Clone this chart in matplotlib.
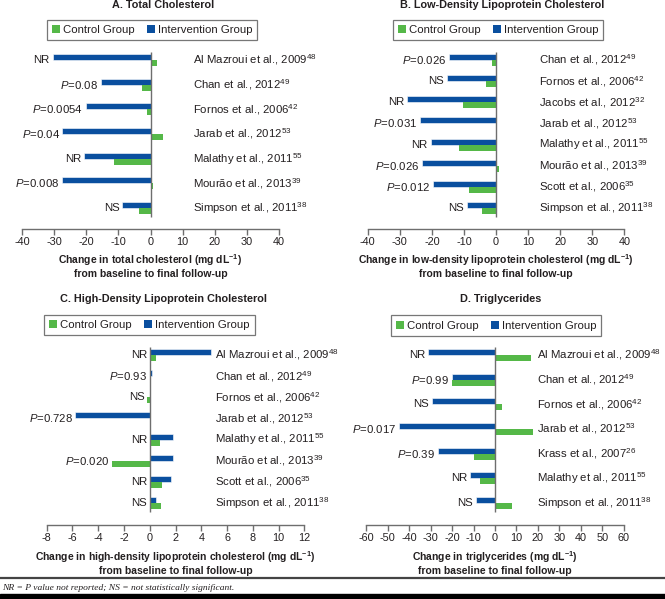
import matplotlib
matplotlib.use("Agg")
import matplotlib.pyplot as plt
from matplotlib.patches import Patch, Rectangle
from matplotlib.lines import Line2D

plt.rcParams['font.family'] = ['Liberation Sans', 'DejaVu Sans']
plt.rcParams['mathtext.fontset'] = 'custom'
plt.rcParams['mathtext.rm'] = 'Liberation Sans'
plt.rcParams['mathtext.it'] = 'Liberation Sans:italic'
plt.rcParams['mathtext.bf'] = 'Liberation Sans:bold'

BLUE = '#0A4F9F'
GREEN = '#55B848'
TXT = '#231F20'
GRAY = '#6E6E6E'

# ---------------- data ----------------
A_studies = ["Al Mazroui et al., 2009", "Chan et al., 2012", "Fornos et al., 2006", "Jarab et al., 2012",
             "Malathy et al., 2011", "Mourão et al., 2013", "Simpson et al., 2011"]
A_refs = ["48", "49", "42", "53", "55", "39", "38"]
A_int = [-30.5, -15.4, -20.1, -27.4, -20.7, -27.4, -8.8]
A_ctrl = [2.1, -2.7, -1.2, 3.9, -11.4, 0.7, -3.6]
A_p = ["NR", "P=0.08", "P=0.0054", "P=0.04", "NR", "P=0.008", "NS"]

B_studies = ["Chan et al., 2012", "Fornos et al., 2006", "Jacobs et al., 2012", "Jarab et al., 2012",
             "Malathy et al., 2011", "Mourão et al., 2013", "Scott et al., 2006", "Simpson et al., 2011"]
B_refs = ["49", "42", "32", "53", "55", "39", "35", "38"]
B_int = [-14.5, -15.3, -27.7, -23.6, -20.4, -23.0, -19.6, -9.0]
B_ctrl = [-1.2, -3.0, -10.4, 0.0, -11.4, 0.8, -8.4, -4.3]
B_p = ["P=0.026", "NS", "NR", "P=0.031", "NR", "P=0.026", "P=0.012", "NS"]

C_studies = ["Al Mazroui et al., 2009", "Chan et al., 2012", "Fornos et al., 2006", "Jarab et al., 2012",
             "Malathy et al., 2011", "Mourão et al., 2013", "Scott et al., 2006", "Simpson et al., 2011"]
C_refs = ["48", "49", "42", "53", "55", "39", "35", "38"]
C_int = [4.76, 0.21, 0.0, -5.77, 1.81, 1.81, 1.66, 0.47]
C_ctrl = [0.52, 0.13, -0.18, 0.0, 0.83, -2.9, 0.98, 0.88]
C_p = ["NR", "P=0.93", "NS", "P=0.728", "NR", "P=0.020", "NR", "NS"]

D_studies = ["Al Mazroui et al., 2009", "Chan et al., 2012", "Fornos et al., 2006", "Jarab et al., 2012",
             "Krass et al., 2007", "Malathy et al., 2011", "Simpson et al., 2011"]
D_refs = ["48", "49", "42", "53", "26", "55", "38"]
D_int = [-31.2, -20.1, -29.4, -44.9, -26.7, -11.5, -8.9]
D_ctrl = [16.6, -20.1, 3.3, 17.9, -10.0, -7.2, 8.1]
D_p = ["NR", "P=0.99", "NS", "P=0.017", "P=0.39", "NR", "NS"]

A_ticks = list(range(-40, 41, 10))
B_ticks = list(range(-40, 41, 10))
C_ticks = list(range(-8, 13, 2))
D_ticks = list(range(-60, 61, 10))

W, H = 665, 599
fig = plt.figure(figsize=(W / 100, H / 100), dpi=100)


def fx(px):
    return px / W


def fy(py):
    return 1 - py / H


def fmt_p(s):
    if s.startswith("P="):
        return "$P$=" + s[2:]
    return s


def panel(title, xlabel, studies, refs, ints, ctrls, pvals, ticks,
          x0, x1, row0, spacing, spine_y, title_x, title_y, legend_box, label_frac):
    n = len(studies)
    top = row0 - 10
    ax = fig.add_axes([fx(x0), fy(spine_y), fx(x1 - x0), (spine_y - top) / H])
    ax.set_xlim(ticks[0], ticks[-1])
    ylo = -10 / spacing
    yhi = (spine_y - row0) / spacing
    ax.set_ylim(yhi, ylo)
    h = 6 / spacing
    ys = list(range(n))
    ax.barh([y - h / 2 for y in ys], ints, height=h, color=BLUE, edgecolor='white', linewidth=0.4, zorder=2)
    ax.barh([y + h / 2 for y in ys], ctrls, height=h, color=GREEN, edgecolor='none', zorder=2)
    ax.vlines(0, -8 / spacing, n - 1 + 9 / spacing, color=GRAY, lw=1.0, zorder=3)
    for sp in ['top', 'left', 'right']:
        ax.spines[sp].set_visible(False)
    ax.spines['bottom'].set_color(GRAY)
    ax.spines['bottom'].set_linewidth(1.0)
    ax.set_yticks([])
    ax.set_xticks(ticks)
    ax.set_xticklabels([str(t) for t in ticks])
    ax.tick_params(axis='x', direction='out', length=4, width=1.0, color=GRAY,
                   labelsize=7.8, labelcolor=TXT, pad=2)
    ax.set_xlabel(xlabel, fontsize=7.5, fontweight='bold', color=TXT, labelpad=4, linespacing=1.15)
    ax.patch.set_alpha(0)
    for y, s, r, iv, cv, p in zip(ys, studies, refs, ints, ctrls, pvals):
        ax.text(label_frac, y, s + "$^{" + r + "}$", transform=ax.get_yaxis_transform(),
                ha='left', va='center', fontsize=8.2, color=TXT)
        xm = min(iv, cv, 0)
        ax.annotate(fmt_p(p), xy=(xm, y), xytext=(-2, 0), textcoords='offset points',
                    ha='right', va='center', fontsize=8.2, color=TXT)
    fig.text(fx(title_x), fy(title_y), title, ha='center', va='center',
             fontsize=7.8, fontweight='bold', color=TXT)
    lx0, ly0, lx1, ly1 = legend_box
    handles = [Patch(facecolor=GREEN, edgecolor='none', label='Control Group'),
               Patch(facecolor=BLUE, edgecolor='none', label='Intervention Group')]
    leg = fig.legend(handles=handles, loc='center', ncol=2,
                     bbox_to_anchor=(fx((lx0 + lx1) / 2), fy((ly0 + ly1) / 2)),
                     frameon=True, fancybox=False, fontsize=8.2, handlelength=0.7, handleheight=0.7,
                     handletextpad=0.25, columnspacing=1.1, borderpad=0.45, borderaxespad=0)
    leg.get_frame().set_edgecolor('#555555')
    leg.get_frame().set_linewidth(0.9)
    for t in leg.get_texts():
        t.set_color(TXT)
    return ax


panel("A. Total Cholesterol",
      "Change in total cholesterol (mg dL$^{\\mathbf{-1}}$)\nfrom baseline to final follow-up",
      A_studies, A_refs, A_int, A_ctrl, A_p, A_ticks,
      22, 279, 60, 24.67, 228.5, 163, 5.5, (50, 21, 254, 39), 0.665)
panel("B. Low-Density Lipoprotein Cholesterol",
      "Change in low-density lipoprotein cholesterol (mg dL$^{\\mathbf{-1}}$)\nfrom baseline to final follow-up",
      B_studies, B_refs, B_int, B_ctrl, B_p, B_ticks,
      367.7, 624.3, 60, 21.14, 228.5, 502, 5.5, (395, 21, 601, 39), 0.666)
panel("C. High-Density Lipoprotein Cholesterol",
      "Change in high-density lipoprotein cholesterol (mg dL$^{\\mathbf{-1}}$)\nfrom baseline to final follow-up",
      C_studies, C_refs, C_int, C_ctrl, C_p, C_ticks,
      46.7, 304.3, 355, 21.14, 525, 163, 299, (48, 317, 251, 333), 0.653)
panel("D. Triglycerides",
      "Change in triglycerides (mg dL$^{\\mathbf{-1}}$)\nfrom baseline to final follow-up",
      D_studies, D_refs, D_int, D_ctrl, D_p, D_ticks,
      366.3, 623.7, 355, 24.67, 525, 501, 299, (394, 317, 598, 334), 0.663)

# footer
fig.add_artist(Line2D([0, 1], [fy(578), fy(578)], transform=fig.transFigure, color='#444444', lw=1.6))
fig.text(fx(2), fy(587.5), "NR = P value not reported; NS = not statistically significant.",
         ha='left', va='center', fontsize=6.8, style='italic', family='Liberation Serif', color=TXT)
fig.add_artist(Rectangle((0, 0), 1, (H - 594) / H, transform=fig.transFigure, color='black'))

fig.savefig("out.png", dpi=100)
